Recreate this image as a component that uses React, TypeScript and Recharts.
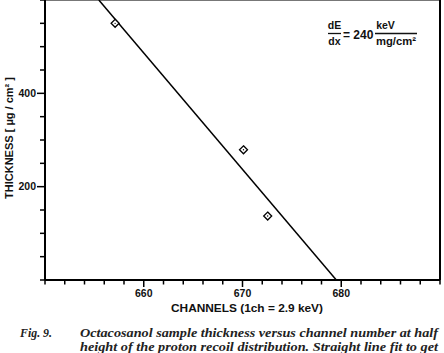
import React from "react";
import { ComposedChart, XAxis, YAxis, Line, Scatter, ReferenceLine } from "recharts";

// Measured points: channel number vs sample thickness (µg/cm²)
const pointChannels = [657.1, 670.1, 672.55];
const pointThickness = [550, 279, 137];

// Straight-line fit endpoints
const fitChannels = [655.45, 679.5];
const fitThickness = [600, 0];

const xTicks = [650, 652, 654, 656, 658, 660, 662, 664, 666, 668, 670, 672, 674, 676, 678, 680, 682, 684, 686, 688, 690];
const xTickLabels = [660, 670, 680];
const yTicks = [0, 50, 100, 150, 200, 250, 300, 350, 400, 450, 500, 550, 600];
const yTickLabels = [200, 400];

const points = pointChannels.map((ch, i) => ({ ch, t: pointThickness[i] }));
const fitLine = fitChannels.map((ch, i) => ({ ch, t: fitThickness[i] }));

const SANS = '"Liberation Sans", Arial, Helvetica, sans-serif';
const SERIF = '"Liberation Serif", "Times New Roman", serif';

const XTick = (props: any) => {
  const { x, y, payload } = props;
  const v = payload.value;
  const labeled = xTickLabels.includes(v);
  return (
    <g>
      <line x1={x} y1={y} x2={x} y2={y + (labeled ? 7 : 4.5)} stroke="#000" strokeWidth={1.5} />
      {labeled && (
        <text x={x} y={y + 17} textAnchor="middle" fontFamily={SANS} fontWeight="bold" fontSize={10.5} fill="#111">
          {v}
        </text>
      )}
    </g>
  );
};

const YTick = (props: any) => {
  const { x, y, payload } = props;
  const v = payload.value;
  const labeled = yTickLabels.includes(v);
  return (
    <g>
      <line x1={x} y1={y} x2={x - (labeled ? 8 : 5)} y2={y} stroke="#000" strokeWidth={1.5} />
      {labeled && (
        <text x={x - 9} y={y + 3.5} textAnchor="end" fontFamily={SANS} fontWeight="bold" fontSize={10.5} fill="#111">
          {v}
        </text>
      )}
    </g>
  );
};

const Diamond = (props: any) => {
  const { cx, cy } = props;
  const r = 4;
  return (
    <g>
      <path
        d={`M${cx},${cy - r}L${cx + r},${cy}L${cx},${cy + r}L${cx - r},${cy}Z`}
        fill="#fff"
        stroke="#000"
        strokeWidth={1.3}
      />
      <circle cx={cx} cy={cy} r={0.7} fill="#000" />
    </g>
  );
};

export default function App() {
  return (
    <div style={{ position: "absolute", left: 0, top: 0, width: 444, height: 353, background: "#fff", overflow: "hidden" }}>
      <ComposedChart width={444} height={353} margin={{ top: 0, right: 4, bottom: 0, left: 0 }}>
        <XAxis
          type="number"
          dataKey="ch"
          domain={[650, 690]}
          ticks={xTicks}
          interval={0}
          allowDataOverflow
          height={73}
          tickLine={false}
          tickSize={0}
          tickMargin={0}
          tick={<XTick />}
          axisLine={{ stroke: "#000", strokeWidth: 2 }}
        />
        <YAxis
          type="number"
          dataKey="t"
          domain={[0, 600]}
          ticks={yTicks}
          interval={0}
          allowDataOverflow
          width={45}
          tickLine={false}
          tickSize={0}
          tickMargin={0}
          tick={<YTick />}
          axisLine={{ stroke: "#000", strokeWidth: 2 }}
        />
        <ReferenceLine y={600} stroke="#777" strokeWidth={2} />
        <ReferenceLine x={690} stroke="#000" strokeWidth={2} />
        <Line
          data={fitLine}
          dataKey="t"
          type="linear"
          stroke="#000"
          strokeWidth={1.5}
          dot={false}
          activeDot={false}
          isAnimationActive={false}
        />
        <Scatter data={points} dataKey="t" shape={<Diamond />} isAnimationActive={false} />
      </ComposedChart>
      <svg
        width={444}
        height={353}
        style={{ position: "absolute", left: 0, top: 0, pointerEvents: "none" }}
      >
        {/* Y axis label */}
        <text
          transform="translate(12.5,138) rotate(-90)"
          textAnchor="middle"
          fontFamily={SANS}
          fontWeight="bold"
          fontSize={10.5}
          fill="#111"
          textLength={122}
          lengthAdjust="spacingAndGlyphs"
        >
          THICKNESS  [ µg / cm² ]
        </text>
        {/* X axis label */}
        <text x={171} y={312} fontFamily={SANS} fontWeight="bold" fontSize={10.5} fill="#111" textLength={152} lengthAdjust="spacingAndGlyphs">
          CHANNELS  (1ch = 2.9 keV)
        </text>
        {/* dE/dx formula */}
        <g fontFamily={SANS} fontWeight="bold" fill="#111">
          <text x={334.5} y={29} fontSize={10.5} textAnchor="middle">dE</text>
          <line x1={328} y1={33.5} x2={341} y2={33.5} stroke="#111" strokeWidth={1.3} />
          <text x={334.5} y={45} fontSize={10.5} textAnchor="middle">dx</text>
          <text x={343} y={38.5} fontSize={12}>= 240</text>
          <text x={385.5} y={29} fontSize={10.5} textAnchor="middle">keV</text>
          <line x1={375} y1={33.5} x2={417} y2={33.5} stroke="#111" strokeWidth={1.3} />
          <text x={376} y={45} fontSize={10.5} textLength={40} lengthAdjust="spacingAndGlyphs">mg/cm²</text>
        </g>
        {/* Caption */}
        <g fontFamily={SERIF} fontStyle="italic" fontWeight="bold" fontSize={11.5} fill="#222">
          <text x={20} y={337} textLength={32} lengthAdjust="spacingAndGlyphs">Fig. 9.</text>
          <text x={80} y={337} textLength={358} lengthAdjust="spacingAndGlyphs">
            Octacosanol sample thickness versus channel number at half
          </text>
          <text x={80} y={350.5} textLength={358} lengthAdjust="spacingAndGlyphs">
            height of the proton recoil distribution. Straight line fit to get
          </text>
        </g>
      </svg>
    </div>
  );
}
